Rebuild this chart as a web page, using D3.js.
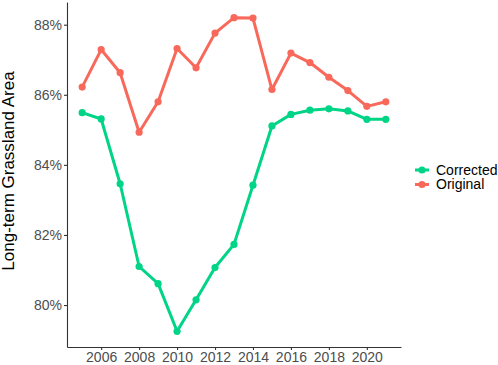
<!DOCTYPE html>
<html>
<head>
<meta charset="utf-8">
<script src="https://cdn.jsdelivr.net/npm/d3@7"></script>
<style>
  body { margin: 0; background: #fff; }
  svg { display: block; font-family: "Liberation Sans", Arial, sans-serif; }
</style>
</head>
<body>
<div id="chart"></div>
<script>
// values
var years = [2005, 2006, 2007, 2008, 2009, 2010, 2011, 2012, 2013, 2014, 2015, 2016, 2017, 2018, 2019, 2020, 2021];
var original = [86.22, 87.29, 86.63, 84.93, 85.80, 87.32, 86.77, 87.76, 88.20, 88.19, 86.15, 87.19, 86.92, 86.50, 86.12, 85.67, 85.80];
var corrected = [85.49, 85.31, 83.46, 81.10, 80.61, 79.25, 80.15, 81.07, 81.73, 83.42, 85.11, 85.44, 85.56, 85.60, 85.54, 85.30, 85.30];
var yTicks = [80, 82, 84, 86, 88];
var xTicks = [2006, 2008, 2010, 2012, 2014, 2016, 2018, 2020];
var seriesNames = ["Corrected", "Original"];
var seriesColors = ["#00D486", "#F8695B"];

var W = 498, H = 365;
var margin = {top: 2, right: 97, bottom: 18, left: 67};
var width = W - margin.left - margin.right,
    height = H - margin.top - margin.bottom;

var svg = d3.select("#chart").append("svg")
  .attr("width", W)
  .attr("height", H);

var g = svg.append("g")
  .attr("transform", "translate(" + margin.left + "," + margin.top + ")");

// ggplot-like 5% expansion
var xExt = d3.extent(years), xPad = (xExt[1] - xExt[0]) * 0.05;
var x = d3.scaleLinear()
  .domain([xExt[0] - xPad, xExt[1] + xPad])
  .range([0, width]);

var all = original.concat(corrected);
var yExt = d3.extent(all), yPad = (yExt[1] - yExt[0]) * 0.05;
var y = d3.scaleLinear()
  .domain([yExt[0] - yPad, yExt[1] + yPad])
  .range([height, 0]);

var xAxis = g.append("g")
  .attr("transform", "translate(0," + height + ")")
  .call(d3.axisBottom(x).tickValues(xTicks).tickFormat(d3.format("d")).tickSize(3).tickSizeOuter(0));

var yAxis = g.append("g")
  .call(d3.axisLeft(y).tickValues(yTicks).tickFormat(function(d) { return d + "%"; }).tickSize(3).tickSizeOuter(0));

[xAxis, yAxis].forEach(function(a) {
  a.select(".domain").attr("stroke", "#333").attr("stroke-width", 1.1);
  a.selectAll(".tick line").attr("stroke", "#333").attr("stroke-width", 1.1);
  a.selectAll(".tick text")
    .attr("fill", "#4D4D4D")
    .style("font-size", "14px")
    .style("font-family", "'Liberation Sans', Arial, sans-serif");
});
xAxis.selectAll(".tick text").attr("dy", "0.8em").attr("y", 4);
yAxis.selectAll(".tick text").attr("x", -5);

svg.append("text")
  .attr("transform", "rotate(-90)")
  .attr("x", -171)
  .attr("y", 13.5)
  .attr("text-anchor", "middle")
  .style("font-size", "17px")
  .attr("fill", "#000")
  .text("Long-term Grassland Area");

var line = d3.line()
  .x(function(d) { return x(d[0]); })
  .y(function(d) { return y(d[1]); });

var series = [
  {name: "Original", values: original, color: seriesColors[1]},
  {name: "Corrected", values: corrected, color: seriesColors[0]}
];

series.forEach(function(s) {
  var pts = years.map(function(yr, i) { return [yr, s.values[i]]; });
  g.append("path")
    .datum(pts)
    .attr("fill", "none")
    .attr("stroke", s.color)
    .attr("stroke-width", 3)
    .attr("stroke-linejoin", "round")
    .attr("d", line);
  g.selectAll(".pt-" + s.name)
    .data(pts)
    .enter().append("circle")
    .attr("cx", function(d) { return x(d[0]); })
    .attr("cy", function(d) { return y(d[1]); })
    .attr("r", 3.6)
    .attr("fill", s.color);
});

// legend
var legend = svg.append("g")
  .attr("transform", "translate(" + (margin.left + width + 14) + ",170)");
seriesNames.forEach(function(name, i) {
  var row = legend.append("g").attr("transform", "translate(0," + (i * 14.5) + ")");
  row.append("line")
    .attr("x1", 0).attr("x2", 14)
    .attr("stroke", seriesColors[i])
    .attr("stroke-width", 3);
  row.append("circle")
    .attr("cx", 7).attr("r", 3.6)
    .attr("fill", seriesColors[i]);
  row.append("text")
    .attr("x", 21)
    .attr("dy", "0.35em")
    .style("font-size", "14px")
    .attr("fill", "#000")
    .text(name);
});
</script>
</body>
</html>
